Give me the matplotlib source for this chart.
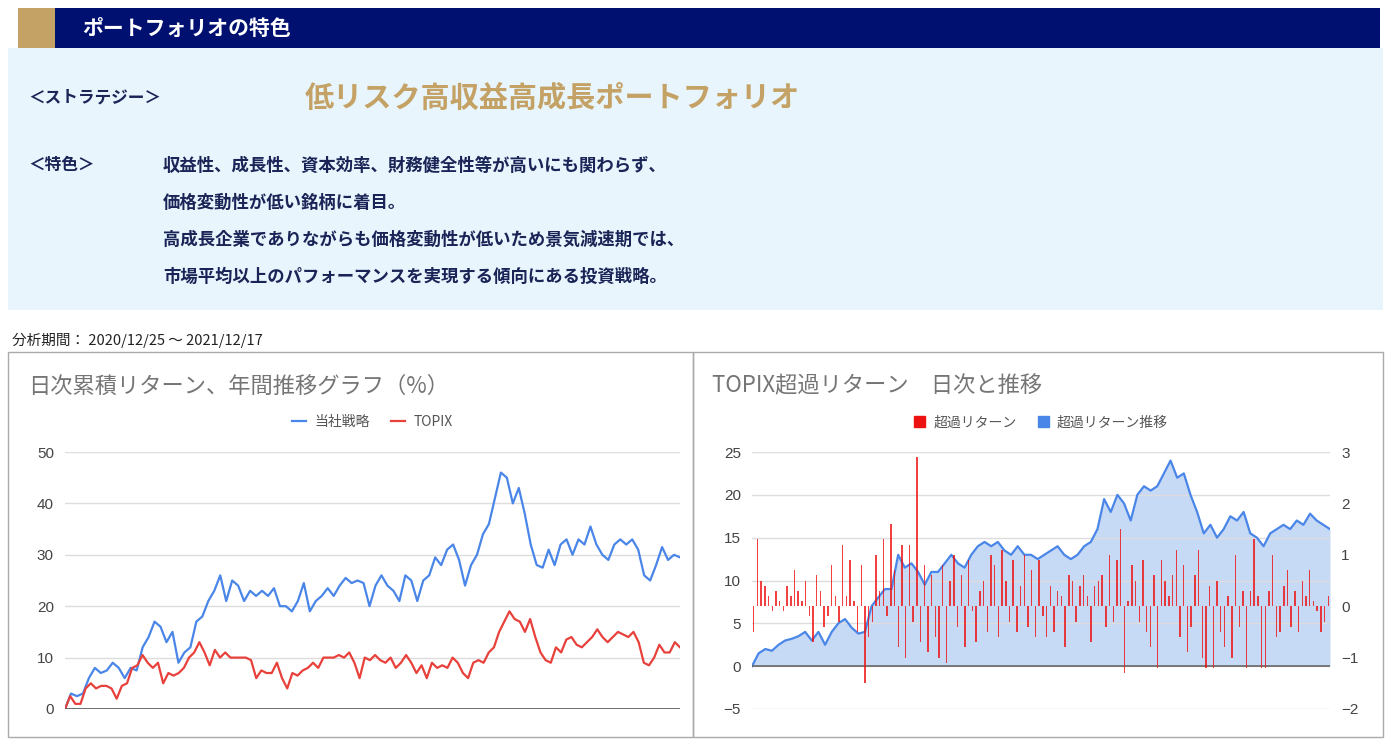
import numpy as np
import matplotlib
matplotlib.use("Agg")
import matplotlib.pyplot as plt
from matplotlib.patches import Rectangle, Patch

plt.rcParams['font.family'] = ['Noto Sans CJK JP', 'DejaVu Sans']

strategy = [0,3,2.5,3,6,8,7,7.5,9,8,6,8,7.5,12,14,17,16,13,15,9,11,12,17,18,21,23,26,21,25,24,21,23,22,23,22,
            23.5,20,20,19,21,24.5,19,21,22,23.5,22,24,25.5,24.5,25,24.5,20,24,26,24,23,21,26,25,21,25,26,29.5,28,
            31,32,29,24,28,30,34,36,41,46,45,40,43,38,32,28,27.5,31,28,32,33,30,33,32,35.5,32,30,29,32,33,32,33,
            31,26,25,28,31.5,29,30,29.5]
topix = [0,2.5,1,1,4,5,4,4.5,4.5,4,2,4.5,5,8,8.5,10.5,9,8,9,5,7,6.5,7,8,10,11,13,11,8.5,11.5,10,11,10,10,
         10,10,9.5,6,7.5,7,7,9,6,4,7,6.5,7.5,8,9,8,10,10,10,10.5,10,11,9,6,10,9.5,10.5,9.5,9,10,8,9,10.5,9,
         7,8.5,6,9,8,8.5,8,10,9,7,6,9,9.5,9,11,12,15,17,19,17.5,17,15,17.5,14,11,9.5,9,12,11,13.5,14,12.5,
         12,13,14,15.5,14,13,14,15,14.5,14,15,13,9,8.5,10,12.5,11,11,13,12]
excess_cum = [0,1.5,2,1.8,2.5,3,3.2,3.5,4,3,4,2.5,4,5,5.5,4.5,3.8,4,7,8,9,9,13,11.5,12,11,9.5,11,11,12,13,12,
              11.5,13,14,14.5,14,14.5,13.5,13,14,13,13,12.5,13,13.5,14,13,12.5,13,14,14.5,16,19.5,18,20,19,
              17,20,21,20.5,21,22.5,24,22,22.5,20,18,15.5,16.5,15,16,17.5,17,18,15.5,15,14,15.5,16,16.5,16,
              17,16.5,17.8,17,16.5,16]
excess_daily = [-0.5,1.3,0.5,0.4,0.2,-0.1,0.3,0.1,-0.1,0.4,0.2,0.7,0.3,0.1,0.5,-0.2,-0.7,0.6,0.3,-0.4,-0.2,0.8,
                0.2,-0.3,1.2,0.2,0.9,0.1,-0.5,0.8,-1.5,-0.6,-0.3,1.0,0.3,1.3,-0.2,1.6,0.7,-0.8,1.2,-1.0,1.2,
                -0.3,2.9,-0.7,0.8,-0.9,0.6,-0.6,-1.0,0.8,-1.1,0.5,1.0,-0.4,0.6,-0.8,0.9,-0.1,-0.7,0.3,0.5,-0.5,
                1.0,0.8,-0.6,1.1,0.5,-0.3,0.9,-0.5,0.4,1.0,-0.4,0.7,-0.6,0.9,-0.2,-0.6,0.4,-0.5,0.3,0.2,-0.8,
                0.6,0.5,-0.3,0.4,0.6,0.2,-0.7,0.4,0.5,0.6,-0.4,1.0,-0.3,0.9,1.5,-1.3,0.1,0.8,0.5,-0.3,0.9,-0.5,
                -0.8,0.6,-1.2,0.9,0.5,0.2,0.6,1.1,-0.6,0.8,-0.9,-0.4,0.6,1.1,-1.0,-1.2,0.4,-1.2,0.5,-0.5,-0.8,
                0.2,-1.0,1.0,-0.4,0.3,-1.2,0.3,1.3,0.2,-1.2,-1.2,0.3,1.0,-0.6,-0.5,0.4,0.7,-0.4,0.3,-0.5,0.5,
                0.2,0.7,0.1,-0.1,-0.5,-0.3,0.2]

W, H = 1391, 745
fig = plt.figure(figsize=(W/100, H/100), dpi=100)
fig.patch.set_facecolor('white')

def rect(x, y, w, h, **kw):
    fig.patches.append(Rectangle((x/W, 1-(y+h)/H), w/W, h/H, transform=fig.transFigure, **kw))

def txt(x, y, s, **kw):
    fig.text(x/W, 1-y/H, s, va='center', **kw)

rect(8, 48, 1375, 262, facecolor='#e8f5fd', edgecolor='none')
rect(18, 8, 1362, 40, facecolor='#001070', edgecolor='none')
rect(18, 8, 37, 40, facecolor='#c4a265', edgecolor='none')
txt(82, 28, 'ポートフォリオの特色', color='white', fontsize=15, fontweight='bold')
navy = '#1a2456'
txt(28, 98, '＜ストラテジー＞', color=navy, fontsize=12, fontweight='bold')
txt(305, 98, '低リスク高収益高成長ポートフォリオ', color='#c4a265', fontsize=21, fontweight='bold')
txt(28, 165, '＜特色＞', color=navy, fontsize=12, fontweight='bold')
lines = ['収益性、成長性、資本効率、財務健全性等が高いにも関わらず、',
         '価格変動性が低い銘柄に着目。',
         '高成長企業でありながらも価格変動性が低いため景気減速期では、',
         '市場平均以上のパフォーマンスを実現する傾向にある投資戦略。']
for i, l in enumerate(lines):
    txt(163, 166 + i*37, l, color=navy, fontsize=12.5, fontweight='bold')
txt(12, 340, '分析期間： 2020/12/25 ～ 2021/12/17', color='#222222', fontsize=10.5)

rect(8, 352, 685, 385, facecolor='none', edgecolor='#aaaaaa', linewidth=1)
rect(693, 352, 690, 385, facecolor='none', edgecolor='#aaaaaa', linewidth=1)
txt(28, 386, '日次累積リターン、年間推移グラフ（%）', color='#757575', fontsize=16)
txt(712, 386, 'TOPIX超過リターン　日次と推移', color='#757575', fontsize=16)

def ax_px(x0, y0, x1, y1):
    return fig.add_axes([x0/W, 1-y1/H, (x1-x0)/W, (y1-y0)/H])

tickfont = dict(family=['Liberation Sans', 'DejaVu Sans'], size=11)
blue = '#4a86e8'
red = '#e8413c'
ax = ax_px(65, 452, 680, 709)
ax.plot(np.linspace(0, 1, len(strategy)), strategy, color=blue, lw=1.6, label='当社戦略')
ax.plot(np.linspace(0, 1, len(topix)), topix, color=red, lw=1.6, label='TOPIX')
ax.set_xlim(0, 1); ax.set_ylim(0, 50)
ax.set_yticks([0, 10, 20, 30, 40, 50])
ax.grid(axis='y', color='#dddddd', lw=1)
ax.axhline(0, color='#555555', lw=1.2)
for s in ax.spines.values(): s.set_visible(False)
ax.set_xticks([])
ax.tick_params(axis='y', length=0, colors='#444444', pad=8)
for t in ax.get_yticklabels(): t.set_fontproperties(tickfont)
ax.set_axisbelow(True)
ax.legend(loc='lower center', bbox_to_anchor=(0.5, 1.04), ncol=2, frameon=False, fontsize=10,
          handlelength=1, handletextpad=0.6, columnspacing=1.5, labelcolor='#555555')

ax2 = ax_px(752, 452, 1330, 709)
xc = np.linspace(0, 1, len(excess_cum))
ax2.fill_between(xc, excess_cum, 0, color='#c6d9f5', lw=0)
ax2.plot(xc, excess_cum, color=blue, lw=1.6)
ax2.set_xlim(0, 1); ax2.set_ylim(-5, 25)
ax2.set_yticks([-5, 0, 5, 10, 15, 20, 25])
ax2.grid(axis='y', color='#dddddd', lw=1)
ax2.axhline(0, color='#666666', lw=1.2)
ax2.set_xticks([])
for s in ax2.spines.values(): s.set_visible(False)
ax2.tick_params(axis='y', length=0, colors='#444444', pad=8)
for t in ax2.get_yticklabels(): t.set_fontproperties(tickfont)
ax3 = ax2.twinx()
xd = np.linspace(0.003, 0.997, len(excess_daily))
ax3.bar(xd, excess_daily, width=0.0025, color='#ee1111', alpha=0.8)
ax3.set_ylim(-2, 3)
ax3.set_yticks([-2, -1, 0, 1, 2, 3])
for s in ax3.spines.values(): s.set_visible(False)
ax3.tick_params(axis='y', length=0, colors='#444444', pad=8)
for t in ax3.get_yticklabels(): t.set_fontproperties(tickfont)
ax2.legend(handles=[Patch(color='#ee1111', label='超過リターン'), Patch(color=blue, label='超過リターン推移')],
           loc='lower center', bbox_to_anchor=(0.5, 1.04), ncol=2, frameon=False, fontsize=10,
           handlelength=0.8, handleheight=0.8, handletextpad=0.6, columnspacing=1.5, labelcolor='#555555')

fig.savefig('out.png', dpi=100)
